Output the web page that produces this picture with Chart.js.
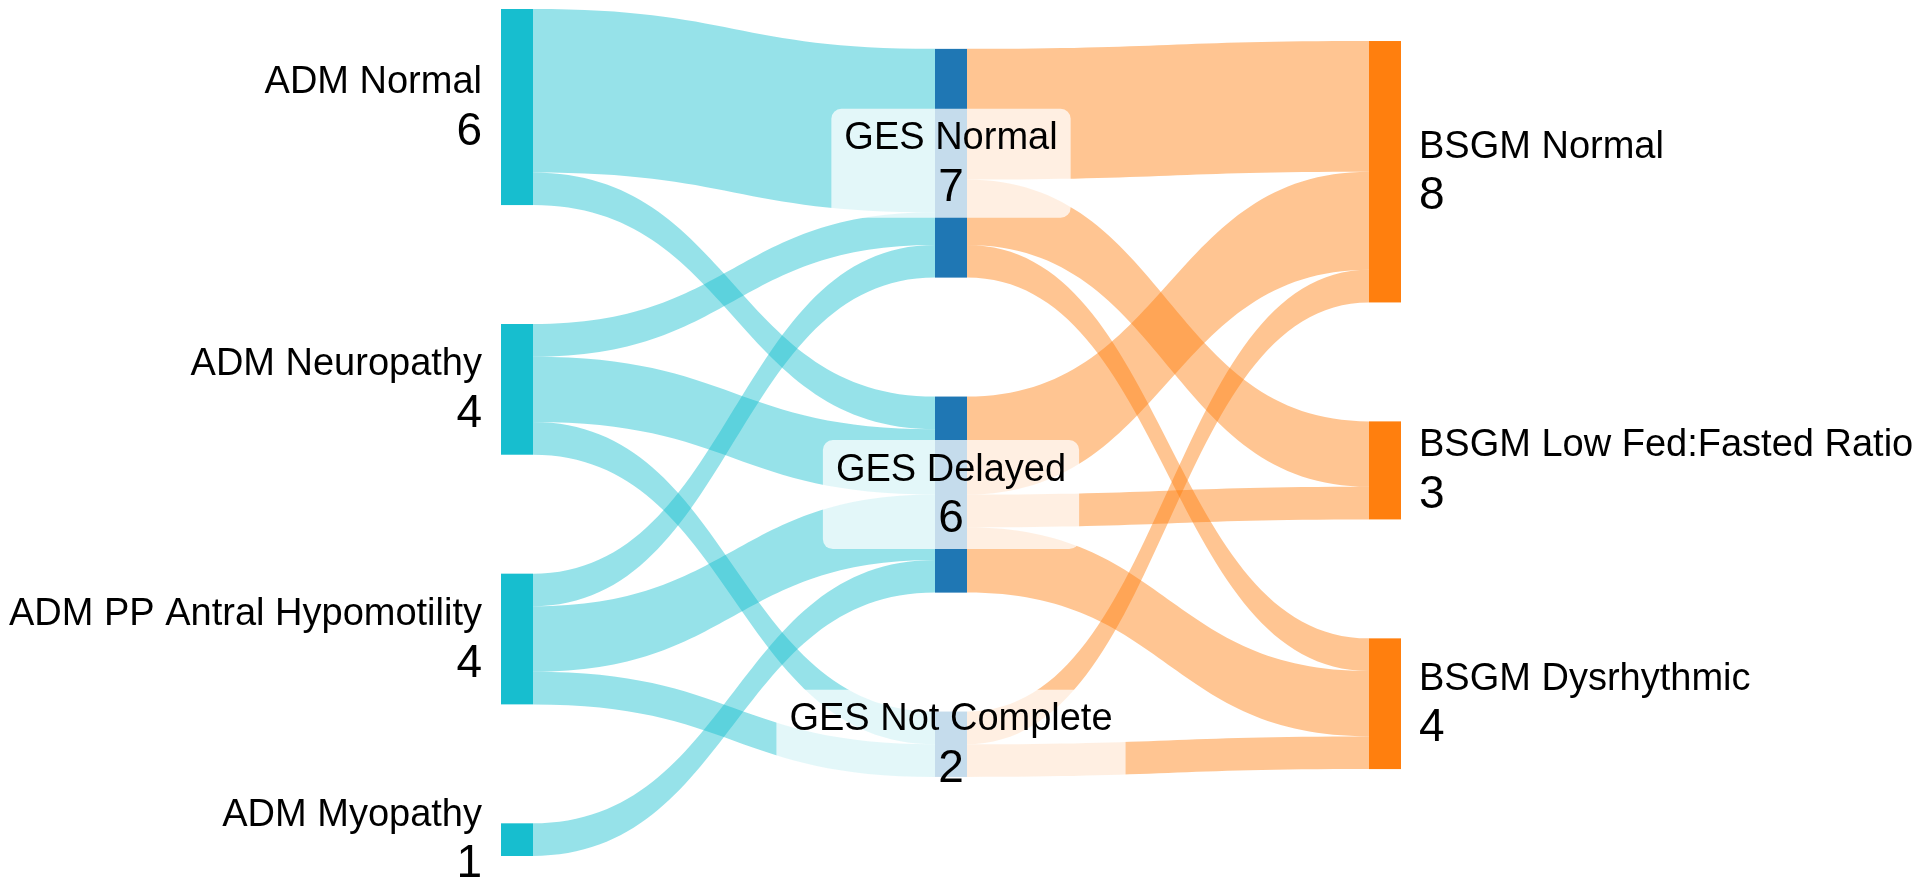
<!DOCTYPE html>
<html>
<head>
<meta charset="utf-8">
<script src="https://cdn.jsdelivr.net/npm/chart.js@4.4.0/dist/chart.umd.min.js"></script>
<style>
    html, body { margin: 0; padding: 0; overflow: hidden; background: #fff; }
    #wrap { width: 1921px; height: 879px; }
</style>
</head>
<body>
<div id="wrap"><canvas id="chart"></canvas></div>
<script>
// Nodes and the column each one sits in
const nodeLabels = [
    "ADM Normal", "ADM Neuropathy", "ADM PP Antral Hypomotility", "ADM Myopathy",
    "GES Normal", "GES Delayed", "GES Not Complete",
    "BSGM Normal", "BSGM Low Fed:Fasted Ratio", "BSGM Dysrhythmic"
];
const nodeColumns = [0, 0, 0, 0, 1, 1, 1, 2, 2, 2];

// Links (source index, target index, count)
const linkSources = [0, 0, 1, 1, 1, 2, 2, 2, 3, 4, 4, 4, 5, 5, 5, 6, 6];
const linkTargets = [4, 5, 4, 5, 6, 4, 5, 6, 5, 7, 8, 9, 7, 8, 9, 7, 9];
const linkValues  = [5, 1, 1, 2, 1, 1, 2, 1, 1, 4, 2, 1, 3, 1, 2, 1, 1];

// Layout / style settings
const nodeGap = 3.64;              // vertical gap between nodes, in value units
const columnOffset = [0, 1.22, 0.98]; // where each column starts, in value units
const nodeWidth = 32;
const columnColors = ["#17becf", "#1f77b4", "#ff7f0e"];
const linkColors = ["rgba(23,190,207,0.45)", "rgba(255,127,14,0.45)"];
const fontFamily = '"Liberation Sans", Arial, Helvetica, sans-serif';

// Node values and stacking, in data units
const inSum = nodeLabels.map(() => 0);
const outSum = nodeLabels.map(() => 0);
linkValues.forEach((v, i) => {
    outSum[linkSources[i]] += v;
    inSum[linkTargets[i]] += v;
});
const nodeValues = nodeLabels.map((_, i) => Math.max(inSum[i], outSum[i]));
const nodeTops = [];
const cursor = columnOffset.slice();
nodeLabels.forEach((_, i) => {
    const c = nodeColumns[i];
    nodeTops[i] = cursor[c];
    cursor[c] += nodeValues[i] + nodeGap;
});
const yMax = Math.max(...cursor.map(c => c - nodeGap));

// Where each link leaves its source and enters its target
const linkIdx = linkValues.map((_, i) => i);
const srcY = [], tgtY = [];
const usedOut = nodeLabels.map(() => 0);
const usedIn = nodeLabels.map(() => 0);
linkIdx.slice()
    .sort((a, b) => linkSources[a] - linkSources[b] || nodeTops[linkTargets[a]] - nodeTops[linkTargets[b]])
    .forEach(i => {
        const s = linkSources[i];
        srcY[i] = nodeTops[s] + usedOut[s];
        usedOut[s] += linkValues[i];
    });
linkIdx.slice()
    .sort((a, b) => linkTargets[a] - linkTargets[b] || nodeTops[linkSources[a]] - nodeTops[linkSources[b]])
    .forEach(i => {
        const t = linkTargets[i];
        tgtY[i] = nodeTops[t] + usedIn[t];
        usedIn[t] += linkValues[i];
    });

function roundRect(ctx, x, y, w, h, r) {
    ctx.beginPath();
    ctx.moveTo(x + r, y);
    ctx.arcTo(x + w, y, x + w, y + h, r);
    ctx.arcTo(x + w, y + h, x, y + h, r);
    ctx.arcTo(x, y + h, x, y, r);
    ctx.arcTo(x, y, x + w, y, r);
    ctx.closePath();
}

const sankeyPlugin = {
    id: "sankey",
    afterDatasetsDraw(chart) {
        const { ctx } = chart;
        const xs = chart.scales.x;
        const ys = chart.scales.y;
        ctx.save();

        // links
        linkValues.forEach((v, i) => {
            const s = linkSources[i], t = linkTargets[i];
            const x0 = xs.getPixelForValue(nodeColumns[s]) + nodeWidth;
            const x1 = xs.getPixelForValue(nodeColumns[t]);
            const xm = (x0 + x1) / 2;
            const a0 = ys.getPixelForValue(srcY[i]);
            const b0 = ys.getPixelForValue(srcY[i] + v);
            const a1 = ys.getPixelForValue(tgtY[i]);
            const b1 = ys.getPixelForValue(tgtY[i] + v);
            ctx.beginPath();
            ctx.moveTo(x0, a0);
            ctx.bezierCurveTo(xm, a0, xm, a1, x1, a1);
            ctx.lineTo(x1, b1);
            ctx.bezierCurveTo(xm, b1, xm, b0, x0, b0);
            ctx.closePath();
            ctx.fillStyle = linkColors[nodeColumns[s]];
            ctx.fill();
        });

        // nodes
        nodeLabels.forEach((_, i) => {
            const x = xs.getPixelForValue(nodeColumns[i]);
            const top = ys.getPixelForValue(nodeTops[i]);
            const bottom = ys.getPixelForValue(nodeTops[i] + nodeValues[i]);
            ctx.fillStyle = columnColors[nodeColumns[i]];
            ctx.fillRect(x, top, nodeWidth, bottom - top);
        });

        // labels
        const nameFont = "38px " + fontFamily;
        const valueFont = "46px " + fontFamily;
        ctx.textBaseline = "alphabetic";
        nodeLabels.forEach((label, i) => {
            const col = nodeColumns[i];
            const x = xs.getPixelForValue(col);
            const cy = (ys.getPixelForValue(nodeTops[i]) + ys.getPixelForValue(nodeTops[i] + nodeValues[i])) / 2;
            const value = String(nodeValues[i]);
            let tx, align;
            if (col === 0) {
                tx = x - 19; align = "right";
            } else if (col === 2) {
                tx = x + nodeWidth + 18; align = "left";
            } else {
                tx = x + nodeWidth / 2; align = "center";
                ctx.font = nameFont;
                const w1 = ctx.measureText(label).width;
                ctx.font = valueFont;
                const w2 = ctx.measureText(value).width;
                const bw = Math.max(w1, w2) + 26;
                roundRect(ctx, tx - bw / 2, cy - 54.5, bw, 109, 10);
                ctx.fillStyle = "rgba(255,255,255,0.74)";
                ctx.fill();
            }
            ctx.fillStyle = "#000";
            ctx.textAlign = align;
            ctx.font = nameFont;
            ctx.fillText(label, tx, cy - 14);
            ctx.font = valueFont;
            ctx.fillText(value, tx, cy + 37.5);
        });

        ctx.restore();
    }
};

const chart = new Chart(document.getElementById("chart").getContext("2d"), {
    type: "scatter",
    data: { datasets: [{ data: [] }] },
    options: {
        responsive: true,
        maintainAspectRatio: false,
        animation: false,
        layout: { padding: { left: 501, right: 552, top: 9, bottom: 23 } },
        scales: {
            x: { type: "linear", min: 0, max: 2, display: false },
            y: { type: "linear", min: 0, max: yMax, reverse: true, display: false },
        },
        plugins: {
            legend: { display: false },
            tooltip: { enabled: false },
        },
    },
    plugins: [sankeyPlugin],
});
</script>
</body>
</html>
